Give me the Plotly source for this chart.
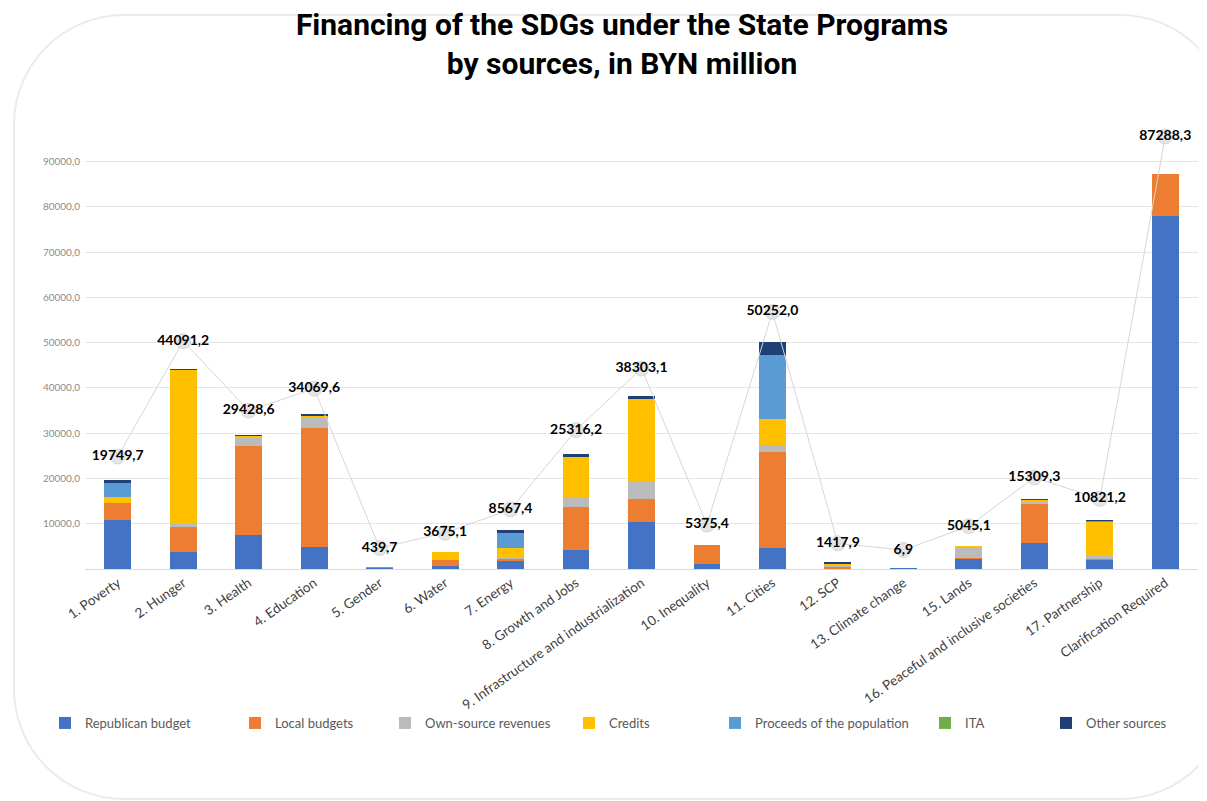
import plotly.graph_objects as go

categories = ["1. Poverty", "2. Hunger", "3. Health", "4. Education", "5. Gender", "6. Water",
              "7. Energy", "8. Growth and Jobs", "9. Infrastructure and industrialization",
              "10. Inequality", "11. Cities", "12. SCP", "13. Climate change", "15. Lands",
              "16. Peaceful and inclusive societies", "17. Partnership", "Clarification Required"]

republican = [10850, 3800, 7500, 4900, 300, 700, 1800, 4200, 10450, 1200, 4700, 150, 6.9, 2250, 5750, 2000, 77900]
local = [3750, 5550, 19650, 26150, 139.7, 1300, 550, 9400, 5000, 4175.4, 21100, 350, 0, 100, 8650, 150, 9388.3]
own_source = [50, 700, 1950, 2450, 0, 280, 50, 2350, 3700, 0, 1700, 200, 0, 2600, 600, 750, 0]
credits = [1250, 34000, 300, 450, 0, 1395.1, 2350, 9000, 18450, 0, 5600, 450, 0, 95.1, 250, 7600, 0]
proceeds = [3150, 0, 0, 0, 0, 0, 3150, 0, 0, 0, 14100, 150, 0, 0, 0, 200, 0]
ita = [0, 0, 0, 0, 0, 0, 0, 0, 0, 0, 0, 0, 0, 0, 0, 0, 0]
other = [699.7, 41.2, 28.6, 119.6, 0, 0, 667.4, 366.2, 703.1, 0, 3052, 117.9, 0, 0, 59.3, 121.2, 0]

totals = [19749.7, 44091.2, 29428.6, 34069.6, 439.7, 3675.1, 8567.4, 25316.2, 38303.1,
          5375.4, 50252.0, 1417.9, 6.9, 5045.1, 15309.3, 10821.2, 87288.3]

y_ticks = [10000, 20000, 30000, 40000, 50000, 60000, 70000, 80000, 90000]

series = [
    ("Republican budget", republican, "#4472C4"),
    ("Local budgets", local, "#ED7D31"),
    ("Own-source revenues", own_source, "#BBBBBB"),
    ("Credits", credits, "#FFC000"),
    ("Proceeds of the population", proceeds, "#5B9BD5"),
    ("ITA", ita, "#70AD47"),
    ("Other sources", other, "#1F3F77"),
]

# page adds an 8px body margin, so the figure is drawn shifted; compensate
OFF = 8
W, H = 1207 - OFF, 801 - OFF
# plot area in reference pixels
PL, PR, PT, PB = 85, 1198, 130, 569


def px_x(x):
    return (x - PL) / (PR - PL)


def px_y(y):
    return (PB - y) / (PB - PT)


def fmt(v):
    return f"{v:.1f}".replace(".", ",")


FONT = "Lato"
legend_text_x = [85, 275, 425, 609, 755, 965, 1086]

fig = go.Figure()

layout_legends = {}
for i, (name, vals, color) in enumerate(series):
    key = "legend" if i == 0 else f"legend{i + 1}"
    fig.add_trace(go.Bar(
        name=name,
        x=categories,
        y=vals,
        marker=dict(color=color, line=dict(width=0)),
        legend=key,
    ))
    layout_legends[key] = dict(
        x=px_x(legend_text_x[i] - 40),
        xanchor="left",
        y=px_y(723),
        yanchor="middle",
        orientation="h",
        bgcolor="rgba(0,0,0,0)",
        font=dict(family=FONT, size=13, color="#595959"),
    )

fig.add_trace(go.Scatter(
    x=categories,
    y=totals,
    yaxis="y2",
    mode="lines+markers+text",
    line=dict(color="#D6D6D6", width=1),
    marker=dict(size=15, color="rgba(220,220,220,0.75)", line=dict(color="rgba(200,200,200,0.6)", width=1)),
    text=[fmt(v) for v in totals],
    textposition="middle center",
    textfont=dict(family=FONT, size=14, color="#000000", weight="bold"),
    showlegend=False,
    cliponaxis=False,
))

# rounded frame around the chart
r = 110
left, top, right, bottom = 14, 15, 1230, 799
k = 0.5523 * r
path = (
    f"M{px_x(left + r)},{px_y(top)} "
    f"L{px_x(right - r)},{px_y(top)} "
    f"C{px_x(right - r + k)},{px_y(top)} {px_x(right)},{px_y(top + r - k)} {px_x(right)},{px_y(top + r)} "
    f"L{px_x(right)},{px_y(bottom - r)} "
    f"C{px_x(right)},{px_y(bottom - r + k)} {px_x(right - r + k)},{px_y(bottom)} {px_x(right - r)},{px_y(bottom)} "
    f"L{px_x(left + r)},{px_y(bottom)} "
    f"C{px_x(left + r - k)},{px_y(bottom)} {px_x(left)},{px_y(bottom - r + k)} {px_x(left)},{px_y(bottom - r)} "
    f"L{px_x(left)},{px_y(top + r)} "
    f"C{px_x(left)},{px_y(top + r - k)} {px_x(left + r - k)},{px_y(top)} {px_x(left + r)},{px_y(top)} Z"
)

fig.update_layout(
    width=W,
    height=H,
    margin=dict(l=PL - OFF, r=W - (PR - OFF), t=PT - OFF, b=H - (PB - OFF)),
    paper_bgcolor="white",
    plot_bgcolor="white",
    barmode="stack",
    bargap=0.59,
    title=dict(
        text="Financing of the SDGs under the State Programs<br>by sources, in BYN million",
        x=(622 - OFF) / W,
        xanchor="center",
        xref="container",
        yref="container",
        y=1 - (35 - OFF) / H,
        yanchor="middle",
        font=dict(family="Roboto", size=30, color="#000000", weight="bold"),
    ),
    xaxis=dict(
        range=[-0.5, len(categories) - 0.5],
        tickangle=-35,
        tickfont=dict(family=FONT, size=13.5, color="#404040"),
        showline=True,
        linecolor="#D9D9D9",
        linewidth=1,
        ticks="",
        showgrid=False,
        automargin=False,
    ),
    yaxis=dict(
        range=[0, 97000],
        tickvals=y_ticks,
        ticktext=[fmt(v) for v in y_ticks],
        tickfont=dict(family=FONT, size=10, color="#8C8C8C"),
        gridcolor="#E6E6E6",
        gridwidth=1,
        zeroline=False,
        ticks="",
        ticklabelstandoff=4,
        automargin=False,
    ),
    yaxis2=dict(
        overlaying="y",
        range=[-3992, 88653],
        visible=False,
    ),
    shapes=[dict(type="path", path=path, xref="paper", yref="paper",
                 line=dict(color="#EBEBEB", width=2), layer="below")],
    **layout_legends,
)

fig.write_html("out.html")
